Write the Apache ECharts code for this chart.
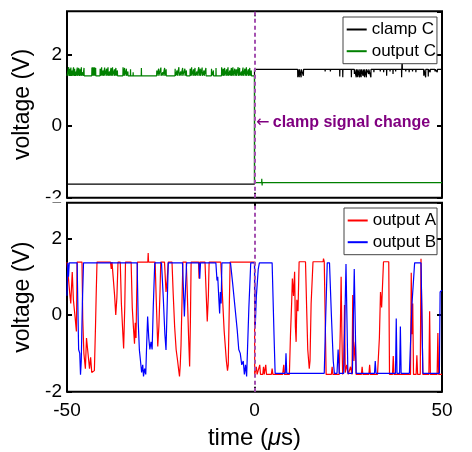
<!DOCTYPE html>
<html><head><meta charset="utf-8">
<script src="https://cdn.jsdelivr.net/npm/echarts@6/dist/echarts.min.js"></script>
<style>html,body{margin:0;padding:0;background:#fff}#c{width:472px;height:452px}</style>
</head><body><div id="c"></div>
<script>
// ---- data ----
const xTicks = [-50, 0, 50];
const yTicks = [-2, 0, 2];
const clampBefore = -1.62, clampAfter = 1.58;
const outCBefore = 1.40, outCAfter = -1.58;
const clampSpikeT = [11.5,11.9,12.4,13.0,18.8,19.5,20.2,21.0,22.7,23.5,25.8,26.6,27.1,27.5,28.0,28.4,28.9,29.3,29.8,30.4,31.0,31.8,33.5,34.4,35.2,36.1,36.9,37.6,39.2,39.35,40.3,41.2,42.1,43.0,45.1,45.6,46.3,46.8,48.1,48.7];
const clampSpikeV = [1.36,1.36,1.36,1.40,1.52,1.54,1.52,1.54,1.38,1.36,1.36,1.45,1.36,1.36,1.36,1.36,1.40,1.36,1.36,1.45,1.36,1.50,1.52,1.50,1.40,1.52,1.45,1.52,1.36,1.95,1.52,1.50,1.52,1.50,1.40,1.36,1.38,1.50,1.52,1.50];
const outCSpikeT = [-49.6,-49.3,-49.0,-48.7,-48.3,-48.0,-47.7,-47.3,-46.9,-46.6,-46.2,-45.8,-45.5,-43.4,-43.2,-43.0,-42.8,-42.6,-42.4,-41.2,-40.8,-40.4,-40.0,-39.5,-39.1,-38.7,-38.3,-37.9,-37.4,-37.0,-36.6,-35.1,-34.7,-34.2,-33.8,-33.1,-32.4,-30.2,-26.1,-25.6,-25.0,-24.5,-24.0,-23.6,-21.2,-20.7,-20.2,-19.7,-19.2,-18.6,-18.2,-17.2,-16.8,-16.3,-15.9,-15.4,-14.9,-14.5,-14.0,-13.5,-13.0,-11.5,-11.0,-10.3,-8.8,-8.4,-8.0,-7.5,-7.1,-6.6,-6.2,-5.8,-5.3,-4.9,-4.4,-4.0,-3.5,-3.1,-2.6,-2.2,-1.7,-1.3,-0.9];
const outCSpikeV = [1.64,1.60,1.63,1.55,1.64,1.60,1.52,1.63,1.62,1.58,1.64,1.50,1.62,1.63,1.64,1.63,1.64,1.63,1.62,1.60,1.64,1.55,1.63,1.60,1.64,1.52,1.62,1.64,1.58,1.62,1.55,1.64,1.62,1.60,1.52,1.58,1.50,1.62,1.55,1.60,1.63,1.50,1.62,1.58,1.60,1.55,1.64,1.52,1.62,1.60,1.55,1.60,1.64,1.58,1.62,1.52,1.64,1.60,1.63,1.55,1.62,1.60,1.55,1.62,1.64,1.60,1.62,1.58,1.64,1.55,1.62,1.64,1.60,1.58,1.64,1.62,1.52,1.63,1.60,1.64,1.58,1.62,1.55];
const outCAfterSpikeT = [1.9, 2.0];
const outCAfterSpikeV = [-1.47, -1.66];
const outputA = [[-50,1.38],[-49.7,1.38],[-49.3,0.6],[-49.0,0.3],[-48.6,1.12],[-48.3,0.4],[-47.8,-0.1],[-47.5,-0.43],[-47.3,1.38],[-46.0,1.38],[-45.8,-0.1],[-45.5,-1.0],[-45.1,-1.4],[-44.8,-0.6],[-44.5,-0.9],[-44.0,-1.4],[-43.7,-1.1],[-43.4,-1.5],[-43.0,-1.55],[-42.7,-1.45],[-42.4,-0.3],[-42.2,0.6],[-42.0,1.38],[-38.4,1.38],[-38.2,1.2],[-38.0,1.38],[-37.6,1.38],[-37.3,0.5],[-37.0,0.0],[-36.7,0.45],[-36.4,1.38],[-35.8,1.38],[-35.5,0.3],[-35.1,-0.5],[-34.9,-0.87],[-34.6,0.2],[-34.4,1.38],[-32.9,1.38],[-32.6,0.2],[-32.3,-0.3],[-32.0,-0.75],[-31.8,-0.2],[-31.6,-0.6],[-31.4,0.6],[-31.2,1.38],[-28.45,1.38],[-28.35,1.62],[-28.25,1.38],[-26.5,1.38],[-26.2,0.4],[-25.8,-0.82],[-25.5,-0.3],[-25.2,0.6],[-25.0,1.38],[-24.0,1.38],[-23.6,0.6],[-23.3,0.9],[-23.0,1.38],[-22.0,1.38],[-21.7,0.6],[-21.3,-0.3],[-20.9,-0.9],[-20.5,-1.2],[-20.2,-1.45],[-20.0,-1.6],[-19.8,-1.3],[-19.6,-0.8],[-19.3,0.5],[-19.1,1.38],[-18.2,1.38],[-17.9,0.5],[-17.6,-0.5],[-17.3,-1.34],[-17.1,-0.2],[-16.9,1.38],[-14.9,1.38],[-14.8,0.95],[-14.6,1.38],[-13.2,1.38],[-12.9,0.6],[-12.6,-0.17],[-12.3,0.5],[-12.1,1.38],[-9.0,1.38],[-8.7,0.8],[-8.4,0.2],[-8.1,-0.4],[-7.8,-0.8],[-7.5,-1.2],[-7.2,-1.45],[-7.0,-1.3],[-6.8,-0.2],[-6.5,1.38],[0,1.38],[0.05,-1.55],[0.3,-1.55],[0.5,-1.35],[0.7,-1.55],[1.2,-1.55],[1.4,-1.3],[1.6,-1.55],[2.2,-1.55],[2.4,-1.35],[2.6,-1.55],[3.0,-1.3],[3.2,-1.55],[4.5,-1.55],[4.7,-1.4],[4.9,-1.55],[7.5,-1.55],[7.8,-1.3],[8.0,-1.55],[9.3,-1.55],[9.6,-0.5],[9.9,0.3],[10.1,0.95],[10.4,0.5],[10.7,1.13],[10.9,-0.3],[11.1,-0.7],[11.3,0.4],[11.6,0.1],[11.9,1.39],[13.6,1.39],[13.9,0.2],[14.2,-0.9],[14.6,-1.4],[14.8,-1.2],[15.1,0.3],[15.6,1.39],[18.3,1.39],[18.4,1.47],[18.6,1.39],[19.0,1.39],[19.1,-1.55],[20.5,-1.55],[20.7,-1.35],[20.9,-1.55],[22.6,-1.55],[22.9,-0.3],[23.1,1.0],[23.3,-0.5],[23.5,-1.55],[23.8,-1.3],[24.0,0.26],[24.2,-1.5],[24.6,-1.3],[25.0,-1.55],[25.6,-1.35],[26.0,-1.55],[26.2,0.52],[26.5,-1.2],[26.9,-0.7],[27.1,-1.55],[28.5,-1.55],[28.7,-1.35],[28.9,-1.55],[30.5,-1.55],[30.7,-1.3],[30.9,-1.55],[32.8,-1.55],[33.3,-0.6],[33.6,0.6],[33.9,0.2],[34.4,1.39],[35.8,1.39],[36.0,-1.55],[36.8,-1.55],[37.0,-1.07],[37.2,-1.55],[41.6,-1.55],[41.8,1.1],[42.0,-0.5],[42.2,0.3],[42.4,-1.55],[43.1,-1.55],[43.3,-1.05],[43.5,-1.55],[44.2,-1.55],[44.4,1.47],[44.7,-0.4],[44.9,-1.55],[46.5,-1.55],[46.7,0.1],[46.9,-1.55],[48.7,-1.55],[48.9,-0.47],[49.1,-1.55],[50,-1.55]];
const outputB = [[-50,0.5],[-49.8,1.36],[-49.6,1.0],[-49.4,1.36],[-47.3,1.36],[-47.1,0.2],[-46.9,-0.9],[-46.6,-1.0],[-46.4,-1.56],[-46.2,-1.2],[-45.9,0.3],[-45.6,1.36],[-31.3,1.36],[-31.0,-0.2],[-30.7,-0.91],[-30.4,-1.2],[-30.1,-1.5],[-29.8,-1.3],[-29.6,-1.6],[-29.3,-1.4],[-29.0,-1.55],[-28.8,-0.9],[-28.5,-0.04],[-28.2,-0.6],[-27.9,-0.9],[-27.6,-0.7],[-27.3,-0.9],[-27.0,0.2],[-26.6,1.36],[-24.8,1.36],[-24.3,0.4],[-23.9,-0.5],[-23.6,-0.91],[-23.3,0.2],[-23.0,1.36],[-19.2,1.36],[-18.9,0.5],[-18.7,-0.04],[-18.4,0.7],[-18.1,1.36],[-14.8,1.36],[-14.6,0.95],[-14.4,1.36],[-10.3,1.36],[-10.0,0.9],[-9.8,1.0],[-9.5,0.4],[-9.3,0.04],[-9.1,0.6],[-8.9,0.3],[-8.7,1.36],[-6.4,1.36],[-5.8,0.8],[-5.2,0.2],[-4.6,-0.4],[-4.2,-0.9],[-3.8,-1.0],[-3.4,-1.3],[-3.0,-1.2],[-2.7,-1.55],[-2.4,-1.3],[-2.1,-1.6],[-1.8,-1.55],[-1.5,0.2],[-1.0,1.36],[0,1.36],[0.2,-0.3],[0.5,0.5],[1.0,1.2],[1.3,1.36],[4.7,1.36],[5.2,-0.5],[5.5,-1.52],[8.2,-1.52],[8.4,-1.0],[8.6,-1.52],[18.6,-1.52],[19.0,0.0],[19.4,1.36],[20.0,1.36],[20.5,0.0],[21.0,-1.2],[21.3,-1.52],[22.0,-1.52],[22.3,-0.9],[22.6,-1.52],[23.8,-1.52],[24.4,1.33],[24.9,-1.52],[26.1,-1.52],[26.6,1.2],[27.1,-1.52],[32.0,-1.52],[32.2,-1.2],[32.4,-1.52],[37.6,-1.52],[37.8,-0.09],[38.0,-1.52],[38.7,-1.52],[38.9,-0.3],[39.1,-1.52],[41.3,-1.52],[42.0,0.3],[42.7,1.36],[44.4,1.36],[44.9,-1.52],[49.3,-1.52],[49.5,0.6],[50,0.65]];

// ---- helpers (build line data from the arrays) ----
function spiky(t0, t1, base, T, V) {
  const d = [[t0, base]];
  T.forEach((t, i) => { d.push([t, base], [t + 0.04, V[i]], [t + 0.08, base]); });
  d.push([t1, base]);
  return d;
}
const clampData = [[-50, clampBefore], [0, clampBefore]].concat(spiky(0, 50, clampAfter, clampSpikeT, clampSpikeV));
const outCData = spiky(-50, 0, outCBefore, outCSpikeT, outCSpikeV).concat(spiky(0, 50, outCAfter, outCAfterSpikeT, outCAfterSpikeV));

const font = '"Liberation Sans", Arial, sans-serif';
const tickStyle = {inside: true, length: 5, lineStyle: {color: '#000', width: 2}};

function xAx(grid, pos, labels, name) {
  return {type: 'value', gridIndex: grid, position: pos, min: -50, max: 50, interval: 50,
    axisLine: {show: false, onZero: false}, axisTick: tickStyle, splitLine: {show: false},
    axisLabel: {show: labels, color: '#000', fontSize: 19, fontFamily: font, margin: 10},
    name: name || '', nameLocation: 'middle', nameGap: 35,
    nameTextStyle: {color: '#000', fontSize: 24, fontFamily: font,
      rich: {i: {fontStyle: 'italic', fontSize: 24, fontFamily: font, color: '#000'}}}};
}
function yAx(grid, pos, max, labels) {
  return {type: 'value', gridIndex: grid, position: pos, min: -2, max: max, interval: 2,
    axisLine: {show: false, onZero: false}, axisTick: tickStyle, splitLine: {show: false},
    axisLabel: {show: labels, color: '#000', fontSize: 19, fontFamily: font, margin: 5,
      showMaxLabel: false, formatter: v => (yTicks.indexOf(v) >= 0 ? String(v) : '')},
    name: labels ? 'voltage (V)' : '', nameLocation: 'middle', nameGap: 22, nameRotate: 90,
    nameTextStyle: {color: '#000', fontSize: 23, fontFamily: font}};
}
const vline = {symbol: 'none', silent: true, label: {show: false}, animation: false,
  lineStyle: {color: '#a451b0', type: [4, 3], width: 2}, data: [{xAxis: xTicks[1]}]};
function ser(name, data, color, xi, yi, mark) {
  const s = {name, type: 'line', data, xAxisIndex: xi, yAxisIndex: yi, symbol: 'none', showSymbol: false,
    lineStyle: {color, width: 1.2}, itemStyle: {color}, animation: false, clip: true};
  if (mark) s.markLine = vline;
  return s;
}
const legendBase = {orient: 'vertical', padding: [4, 1, 4, 3.7], itemWidth: 20, itemHeight: 2, itemGap: 4.7,
  icon: 'rect', borderColor: '#444', borderWidth: 1, backgroundColor: '#fff', borderRadius: 0,
  textStyle: {fontSize: 17, lineHeight: 17, fontFamily: font, color: '#000'}};

const option = {
  backgroundColor: '#fff',
  animation: false,
  grid: [
    {left: 67, top: 11.3, width: 375, height: 186.4, show: true, borderColor: '#000', borderWidth: 2, backgroundColor: 'transparent'},
    {left: 67, top: 202.7, width: 375, height: 189, show: true, borderColor: '#000', borderWidth: 2, backgroundColor: 'transparent'}
  ],
  xAxis: [xAx(0, 'bottom', false), xAx(0, 'top', false), xAx(1, 'bottom', true, 'time ({i|μ}s)'), xAx(1, 'top', false)],
  yAxis: [yAx(0, 'left', 3.2, true), yAx(0, 'right', 3.2, false), yAx(1, 'left', 2.93, true), yAx(1, 'right', 2.93, false)],
  legend: [
    Object.assign({}, legendBase, {data: ['clamp C', 'output C'], left: 343, top: 17}),
    Object.assign({}, legendBase, {data: ['output A', 'output B'], left: 344, top: 208})
  ],
  series: [
    ser('clamp C', clampData, '#000000', 0, 0, false),
    ser('output C', outCData, '#008000', 0, 0, true),
    ser('output A', outputA, '#ff0000', 2, 2, false),
    ser('output B', outputB, '#0000ff', 2, 2, true)
  ],
  graphic: [
    {type: 'rect', left: 0, top: 198.6, z: 100, shape: {width: 66, height: 4}, style: {fill: '#fff'}},
    {type: 'text', left: 256, top: 115, z: 100, style: {
      text: '{a|←} {b|clamp signal change}',
      rich: {a: {fontSize: 16, fontFamily: '"DejaVu Sans", sans-serif', fill: '#800080'},
             b: {fontSize: 16, fontWeight: 'bold', fontFamily: font, fill: '#800080'}}}}
  ]
};
const chart = echarts.init(document.getElementById('c'), null, {renderer: 'canvas'});
chart.setOption(option);
</script>
</body></html>
